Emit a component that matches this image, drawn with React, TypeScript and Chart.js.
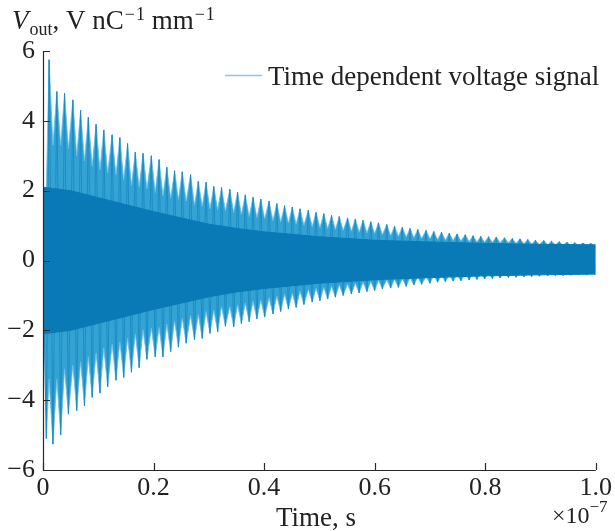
import React, { useEffect, useRef } from "react";
import { Chart, registerables } from "chart.js";
Chart.register(...registerables);

const SERIF = '"Liberation Serif", "Times New Roman", serif';

const xTicks = [0, 0.2, 0.4, 0.6, 0.8, 1.0];
const yTicks = [-6, -4, -2, 0, 2, 4, 6];

// upper lobe peaks (time in units of 1e-7 s, V nC^-1 mm^-1)
const peakTimes = [
  0.011, 0.025, 0.039, 0.054, 0.068, 0.082, 0.096, 0.110, 0.125, 0.139,
  0.153, 0.167, 0.181, 0.196, 0.210, 0.224, 0.238, 0.252, 0.267, 0.281,
  0.295, 0.309, 0.323, 0.338, 0.352, 0.366, 0.380, 0.394, 0.409, 0.423,
  0.437, 0.451, 0.465, 0.480, 0.494, 0.508, 0.522, 0.536, 0.551, 0.565,
  0.579, 0.593, 0.607, 0.622, 0.636, 0.650, 0.664, 0.678, 0.693, 0.707,
  0.721, 0.735, 0.749, 0.764, 0.778, 0.792, 0.806, 0.820, 0.835, 0.849,
  0.863, 0.877, 0.891, 0.906, 0.920, 0.934, 0.948, 0.962, 0.977, 0.991,
];
const peakValues = [
  5.75, 4.84, 4.79, 4.60, 4.30, 4.10, 3.90, 3.74, 3.60, 3.52,
  3.35, 3.10, 3.07, 3.00, 2.89, 2.67, 2.57, 2.54, 2.46, 2.27,
  2.24, 2.12, 2.09, 2.04, 1.96, 1.88, 1.81, 1.76, 1.70, 1.63,
  1.57, 1.53, 1.48, 1.44, 1.38, 1.34, 1.29, 1.26, 1.22, 1.19,
  1.15, 1.11, 1.08, 1.03, 0.98, 0.95, 0.92, 0.89, 0.86, 0.83,
  0.81, 0.78, 0.76, 0.74, 0.71, 0.69, 0.68, 0.67, 0.65, 0.63,
  0.62, 0.60, 0.58, 0.57, 0.55, 0.54, 0.52, 0.51, 0.50, 0.49,
];
// bottom of the white gaps on the lower side, at the peak times
const lowerValleys = [
  -3.4, -3.4, -3.1, -3.0, -2.9, -2.75, -2.65, -2.5, -2.4, -2.33,
  -2.22, -2.1, -1.98, -1.93, -1.92, -1.82, -1.73, -1.65, -1.58, -1.55,
  -1.46, -1.42, -1.32, -1.32, -1.27, -1.22, -1.17, -1.13, -1.07, -1.02,
  -0.97, -0.94, -0.88, -0.83, -0.8, -0.77, -0.74, -0.7, -0.67, -0.65,
  -0.62, -0.6, -0.57, -0.55, -0.54, -0.52, -0.49, -0.48, -0.46, -0.43,
  -0.43, -0.41, -0.41, -0.39, -0.38, -0.37, -0.36, -0.35, -0.34, -0.34,
  -0.33, -0.32, -0.32, -0.31, -0.3, -0.3, -0.29, -0.29, -0.29, -0.28,
];

// lower lobe troughs
const troughTimes = [
  0.006,
  0.018, 0.032, 0.046, 0.061, 0.075, 0.089, 0.103, 0.117, 0.132, 0.146,
  0.160, 0.174, 0.188, 0.203, 0.217, 0.231, 0.245, 0.259, 0.274, 0.288,
  0.302, 0.316, 0.330, 0.345, 0.359, 0.373, 0.387, 0.401, 0.416, 0.430,
  0.444, 0.458, 0.472, 0.487, 0.501, 0.515, 0.529, 0.543, 0.558, 0.572,
  0.586, 0.600, 0.614, 0.629, 0.643, 0.657, 0.671, 0.685, 0.700, 0.714,
  0.728, 0.742, 0.756, 0.771, 0.785, 0.799, 0.813, 0.827, 0.842, 0.856,
  0.870, 0.884, 0.898, 0.913, 0.927, 0.941, 0.955, 0.969, 0.984, 0.998,
];
const troughValues = [
  -5.10,
  -5.26, -4.99, -4.40, -4.30, -4.16, -3.92, -3.80, -3.62, -3.43, -3.35,
  -3.20, -3.07, -2.83, -2.76, -2.76, -2.61, -2.48, -2.37, -2.26, -2.23,
  -2.09, -2.04, -1.88, -1.90, -1.81, -1.75, -1.67, -1.62, -1.53, -1.46,
  -1.39, -1.34, -1.26, -1.19, -1.15, -1.10, -1.05, -1.00, -0.96, -0.93,
  -0.89, -0.86, -0.81, -0.79, -0.77, -0.74, -0.70, -0.68, -0.65, -0.62,
  -0.61, -0.59, -0.58, -0.56, -0.54, -0.53, -0.52, -0.50, -0.49, -0.48,
  -0.47, -0.46, -0.45, -0.44, -0.43, -0.43, -0.42, -0.41, -0.41, -0.40,
];
// bottom of the white gaps on the upper side, at the trough times
const upperValleys = [
  2.0,
  3.3, 3.3, 3.2, 3.0, 2.85, 2.7, 2.6, 2.5, 2.45, 2.3,
  2.15, 2.1, 2.05, 1.95, 1.85, 1.78, 1.75, 1.7, 1.58, 1.55,
  1.48, 1.45, 1.42, 1.37, 1.31, 1.26, 1.23, 1.19, 1.14, 1.1,
  1.07, 1.04, 1.01, 0.97, 0.94, 0.91, 0.89, 0.86, 0.84, 0.81,
  0.79, 0.77, 0.74, 0.71, 0.69, 0.67, 0.65, 0.63, 0.62, 0.6,
  0.58, 0.57, 0.56, 0.54, 0.53, 0.52, 0.52, 0.51, 0.5, 0.49,
  0.48, 0.47, 0.46, 0.45, 0.45, 0.44, 0.43, 0.43, 0.42, 0.42,
];

// dense high-frequency core of the signal
const coreTimes = [0, 0.05, 0.1, 0.15, 0.2, 0.25, 0.3, 0.35, 0.4, 0.5, 0.6, 0.7, 0.8, 0.9, 1.0];
const coreUpper = [2.1, 2.0, 1.8, 1.6, 1.4, 1.22, 1.04, 0.92, 0.82, 0.68, 0.58, 0.53, 0.49, 0.46, 0.45];
const coreLower = [-2.1, -2.0, -1.8, -1.6, -1.4, -1.22, -1.04, -0.9, -0.8, -0.65, -0.55, -0.49, -0.44, -0.41, -0.39];

const seriesLabel = "Time dependent voltage signal";

const byX = (a: { x: number }, b: { x: number }) => a.x - b.x;

export default function App() {
  const ref = useRef<HTMLCanvasElement | null>(null);

  useEffect(() => {
    document.body.style.margin = "0";
    const canvas = ref.current;
    if (!canvas) return;

    const upperTeeth = [
      { x: 0, y: 0 },
      ...peakTimes.map((t, i) => ({ x: t, y: peakValues[i] })),
      ...troughTimes.map((t, i) => ({ x: t, y: upperValleys[i] })),
      { x: 1, y: 0.4 },
    ].sort(byX);
    const lowerTeeth = [
      { x: 0, y: 0 },
      ...troughTimes.map((t, i) => ({ x: t, y: troughValues[i] })),
      ...peakTimes.map((t, i) => ({ x: t, y: lowerValleys[i] })),
      { x: 1, y: -0.3 },
    ].sort(byX);
    // the oscillating signal swinging between successive lobe extremes
    const swing = [
      { x: 0, y: 0 },
      ...peakTimes.map((t, i) => ({ x: t, y: peakValues[i] })),
      ...troughTimes.map((t, i) => ({ x: t, y: troughValues[i] })),
    ].sort(byX);
    const coreUp = coreTimes.map((t, i) => ({ x: t, y: coreUpper[i] }));
    const coreLo = coreTimes.map((t, i) => ({ x: t, y: coreLower[i] }));

    const CORE = "#0a7ab6";
    const LOBE = "#34a3d4";
    const LOBE_EDGE = "#6bbde1";
    const SWING = "#1b8dc5";

    const decor = {
      id: "decor",
      afterDraw(chart: any) {
        const ctx = chart.ctx;
        const a = chart.chartArea;
        const xs = chart.scales.x;
        const ys = chart.scales.y;
        ctx.save();
        ctx.strokeStyle = "#2a2a2a";
        ctx.lineWidth = 1.2;
        ctx.beginPath();
        ctx.moveTo(Math.round(a.left) + 0.5, a.top);
        ctx.lineTo(Math.round(a.left) + 0.5, Math.round(a.bottom) + 0.5);
        ctx.lineTo(a.right, Math.round(a.bottom) + 0.5);
        ctx.stroke();
        ctx.beginPath();
        xTicks.forEach((v) => {
          const px = Math.round(xs.getPixelForValue(v)) + 0.5;
          ctx.moveTo(px, a.bottom);
          ctx.lineTo(px, a.bottom - 7);
        });
        yTicks.forEach((v) => {
          const py = Math.round(ys.getPixelForValue(v)) + 0.5;
          ctx.moveTo(a.left, py);
          ctx.lineTo(a.left + 7, py);
        });
        ctx.stroke();

        ctx.fillStyle = "#222";
        ctx.textBaseline = "alphabetic";
        ctx.textAlign = "left";
        let x = 12;
        const put = (txt: string, font: string, y: number) => {
          ctx.font = font;
          ctx.fillText(txt, x, y);
          x += ctx.measureText(txt).width;
        };
        put("V", `italic 27px ${SERIF}`, 29);
        x += 1;
        put("out", `18px ${SERIF}`, 35);
        put(", V nC", `27px ${SERIF}`, 29);
        x += 1;
        put("\u2212", `18px ${SERIF}`, 20);
        x += 1;
        put("1", `18px ${SERIF}`, 20);
        put(" mm", `27px ${SERIF}`, 29);
        x += 1;
        put("\u2212", `18px ${SERIF}`, 20);
        x += 1;
        put("1", `18px ${SERIF}`, 20);

        ctx.textAlign = "center";
        ctx.font = `27px ${SERIF}`;
        ctx.fillText("Time, s", 316, 526);

        ctx.textAlign = "left";
        x = 552;
        put("\u00d710", `24px ${SERIF}`, 523);
        put("\u22127", `17px ${SERIF}`, 512);

        ctx.strokeStyle = "#86c8e6";
        ctx.lineWidth = 1.5;
        ctx.beginPath();
        ctx.moveTo(225, 75.5);
        ctx.lineTo(262, 75.5);
        ctx.stroke();
        ctx.font = `27px ${SERIF}`;
        ctx.fillText(seriesLabel, 268, 85);
        ctx.restore();
      },
    };

    const chart = new Chart(canvas, {
      type: "line",
      data: {
        datasets: [
          {
            label: seriesLabel,
            data: coreUp,
            borderColor: CORE,
            backgroundColor: CORE,
            borderWidth: 1,
            pointRadius: 0,
            fill: "+1",
            tension: 0,
          },
          {
            label: "core-lower",
            data: coreLo,
            borderColor: CORE,
            backgroundColor: CORE,
            borderWidth: 1,
            pointRadius: 0,
            fill: false,
            tension: 0,
          },
          {
            label: "swing",
            data: swing,
            borderColor: SWING,
            borderWidth: 1,
            pointRadius: 0,
            fill: false,
            tension: 0,
          },
          {
            label: "upper",
            data: upperTeeth,
            borderColor: LOBE_EDGE,
            backgroundColor: LOBE,
            borderWidth: 0.8,
            pointRadius: 0,
            fill: "origin",
            tension: 0,
          },
          {
            label: "lower",
            data: lowerTeeth,
            borderColor: LOBE_EDGE,
            backgroundColor: LOBE,
            borderWidth: 0.8,
            pointRadius: 0,
            fill: "origin",
            tension: 0,
          },
        ],
      },
      options: {
        responsive: false,
        animation: false,
        devicePixelRatio: 1,
        parsing: false as any,
        normalized: true,
        layout: { padding: { left: 0, right: 16, top: 51, bottom: 0 } },
        plugins: {
          legend: { display: false },
          tooltip: { enabled: false },
        },
        scales: {
          x: {
            type: "linear",
            min: 0,
            max: 1,
            grid: { display: false, drawTicks: false },
            border: { display: false },
            afterBuildTicks: (s: any) => {
              s.ticks = xTicks.map((v) => ({ value: v }));
            },
            afterFit: (s: any) => {
              s.height = 61;
            },
            ticks: {
              autoSkip: false,
              maxRotation: 0,
              padding: 3,
              color: "#222",
              font: { family: SERIF, size: 26 },
              callback: (v: any) => (Number(v) === 0 ? "0" : Number(v).toFixed(1)),
            },
          },
          y: {
            type: "linear",
            min: -6,
            max: 6,
            grid: { display: false, drawTicks: false },
            border: { display: false },
            afterBuildTicks: (s: any) => {
              s.ticks = yTicks.map((v) => ({ value: v }));
            },
            afterFit: (s: any) => {
              s.width = 43;
            },
            ticks: {
              autoSkip: false,
              padding: 8,
              color: "#222",
              font: { family: SERIF, size: 26 },
              callback: (v: any) => (Number(v) < 0 ? "\u2212" + Math.abs(Number(v)) : String(v)),
            },
          },
        },
      },
      plugins: [decor],
    });

    return () => chart.destroy();
  }, []);

  return (
    <div style={{ width: 615, height: 531, position: "relative", background: "#fff" }}>
      <canvas ref={ref} width={615} height={531} style={{ display: "block" }} />
    </div>
  );
}
